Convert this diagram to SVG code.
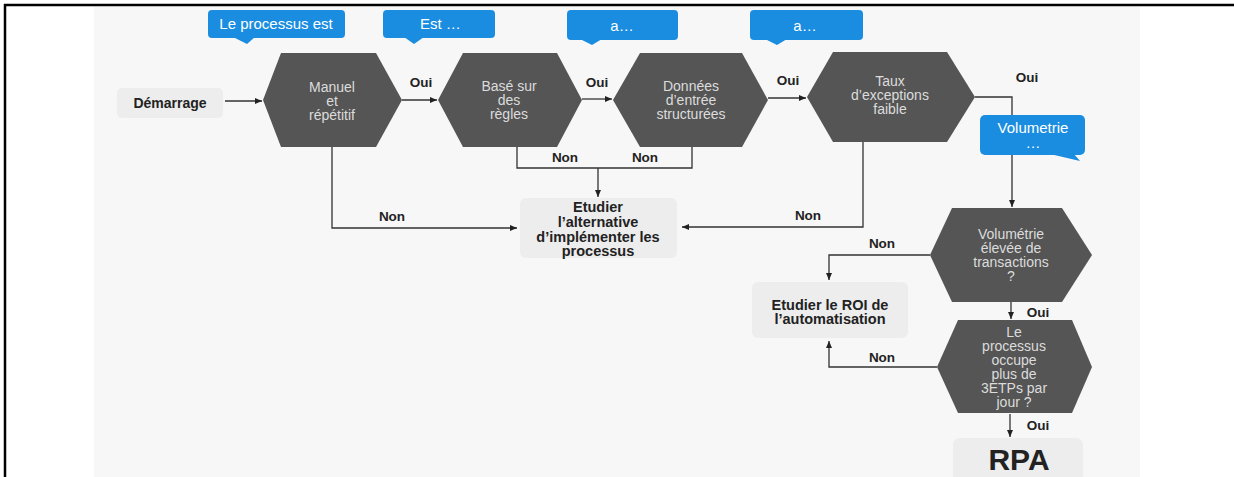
<svg xmlns="http://www.w3.org/2000/svg" width="1234" height="477" viewBox="0 0 1234 477">
<style>
.hex{fill:#555555}
.ht{font-family:"Liberation Sans",Arial,sans-serif;font-size:14px;fill:#dcdcdc;text-anchor:middle}
.box{fill:#ededed}
.bt{font-family:"Liberation Sans",Arial,sans-serif;font-size:14.5px;font-weight:bold;fill:#222;text-anchor:middle}
.lbl{font-family:"Liberation Sans",Arial,sans-serif;font-size:13.5px;font-weight:bold;fill:#222;text-anchor:middle}
.co{fill:#1a8de0}
.ct{font-family:"Liberation Sans",Arial,sans-serif;font-size:15px;fill:#ffffff;text-anchor:middle}
.ln{fill:none;stroke:#333;stroke-width:1.3}
</style>
<defs>
<marker id="ah" markerWidth="8" markerHeight="8" refX="7" refY="4" orient="auto" markerUnits="userSpaceOnUse">
<path d="M0,1 L7,4 L0,7 Z" fill="#222"/>
</marker>
</defs>
<rect x="0" y="0" width="1234" height="477" fill="#ffffff"/>
<rect x="94" y="7" width="1046" height="470" fill="#f7f7f7"/>
<line x1="4" y1="5" x2="1234" y2="5" stroke="#000" stroke-width="2.5"/>
<line x1="5" y1="4" x2="5" y2="477" stroke="#000" stroke-width="2.5"/>

<g id="connectors">
<path class="ln" d="M225,101 H262" marker-end="url(#ah)"/>
<path class="ln" d="M402,100 H437" marker-end="url(#ah)"/>
<path class="ln" d="M582,99 H612" marker-end="url(#ah)"/>
<path class="ln" d="M768,98 H806" marker-end="url(#ah)"/>
<path class="ln" d="M975,97 H1012 V207" marker-end="url(#ah)"/>
<path class="ln" d="M332,147 V228 H517" marker-end="url(#ah)"/>
<path class="ln" d="M517,147 V168 H692 V147"/>
<path class="ln" d="M598,168 V197" marker-end="url(#ah)"/>
<path class="ln" d="M863,142 V227 H682" marker-end="url(#ah)"/>
<path class="ln" d="M930,255 H829 V280" marker-end="url(#ah)"/>
<path class="ln" d="M1011,302 V319" marker-end="url(#ah)"/>
<path class="ln" d="M937,367 H829 V341" marker-end="url(#ah)"/>
<path class="ln" d="M1010,414 V437" marker-end="url(#ah)"/>
<text class="lbl" x="421" y="87">Oui</text>
<text class="lbl" x="597" y="87">Oui</text>
<text class="lbl" x="788" y="85">Oui</text>
<text class="lbl" x="1027" y="82">Oui</text>
<text class="lbl" x="1038" y="317">Oui</text>
<text class="lbl" x="1038" y="430">Oui</text>
<text class="lbl" x="392" y="221">Non</text>
<text class="lbl" x="565" y="162">Non</text>
<text class="lbl" x="645" y="162">Non</text>
<text class="lbl" x="808" y="220">Non</text>
<text class="lbl" x="882" y="248">Non</text>
<text class="lbl" x="882" y="362">Non</text>
</g>

<g id="callout1">
<rect class="co" x="208" y="10" width="137" height="28" rx="4"/>
<path class="co" d="M233,37 L255,37 L247,44 Z"/>
<text class="ct" x="276" y="29">Le processus est</text>
</g>
<g id="callout2">
<rect class="co" x="383" y="10" width="112" height="28" rx="4"/>
<path class="co" d="M404,37 L424,37 L414,44 Z"/>
<text class="ct" x="420" y="29" style="text-anchor:start">Est …</text>
</g>
<g id="callout3">
<rect class="co" x="567" y="10" width="111" height="30" rx="4"/>
<path class="co" d="M580,39 L602,39 L592,45 Z"/>
<text class="ct" x="622" y="31">a…</text>
</g>
<g id="callout4">
<rect class="co" x="750" y="10" width="113" height="30" rx="4"/>
<path class="co" d="M765,39 L787,39 L777,45 Z"/>
<text class="ct" x="805" y="31">a…</text>
</g>
<g id="callout5">
<rect class="co" x="980" y="115" width="105" height="40" rx="5"/>
<path class="co" d="M1050,154 L1074,154 L1080,161 Z"/>
<text class="ct" x="1033" y="133">Volumetrie</text>
<text class="ct" x="1033" y="148">…</text>
</g>

<g id="start">
<rect class="box" x="117" y="88" width="106" height="30" rx="5"/>
<text class="bt" x="170" y="108" style="font-size:14px">Démarrage</text>
</g>

<g id="hex1">
<polygon class="hex" points="263,100 281,53 376,53 402,100 376,147 281,147"/>
<text class="ht" x="332" y="92">Manuel</text>
<text class="ht" x="332" y="106">et</text>
<text class="ht" x="332" y="120">répétitif</text>
</g>
<g id="hex2">
<polygon class="hex" points="438,100 463,53 557,53 582,100 557,147 463,147"/>
<text class="ht" x="509" y="91">Basé sur</text>
<text class="ht" x="509" y="105">des</text>
<text class="ht" x="509" y="119">règles</text>
</g>
<g id="hex3">
<polygon class="hex" points="613,100 640,53 742,53 768,100 742,147 640,147"/>
<text class="ht" x="691" y="91">Données</text>
<text class="ht" x="691" y="105">d’entrée</text>
<text class="ht" x="691" y="119">structurées</text>
</g>
<g id="hex4">
<polygon class="hex" points="807,97 833,52 947,52 975,97 947,142 833,142"/>
<text class="ht" x="890" y="86">Taux</text>
<text class="ht" x="890" y="100">d’exceptions</text>
<text class="ht" x="890" y="114">faible</text>
</g>
<g id="hex5">
<polygon class="hex" points="930,255 952,208 1062,208 1092,255 1062,302 952,302"/>
<text class="ht" x="1011" y="239">Volumétrie</text>
<text class="ht" x="1011" y="253">élevée de</text>
<text class="ht" x="1011" y="267">transactions</text>
<text class="ht" x="1011" y="281">?</text>
</g>
<g id="hex6">
<polygon class="hex" points="937,367 958,320 1072,320 1092,367 1072,413 958,413"/>
<text class="ht" x="1014" y="337">Le</text>
<text class="ht" x="1014" y="351">processus</text>
<text class="ht" x="1014" y="365">occupe</text>
<text class="ht" x="1014" y="379">plus de</text>
<text class="ht" x="1014" y="393">3ETPs par</text>
<text class="ht" x="1014" y="407">jour ?</text>
</g>

<g id="alternative">
<rect class="box" x="520" y="198" width="157" height="60" rx="6"/>
<text class="bt" x="598" y="212">Etudier</text>
<text class="bt" x="598" y="227">l’alternative</text>
<text class="bt" x="598" y="242">d’implémenter les</text>
<text class="bt" x="598" y="256">processus</text>
</g>
<g id="roi">
<rect class="box" x="752" y="282" width="156" height="56" rx="6"/>
<text class="bt" x="830" y="310">Etudier le ROI de</text>
<text class="bt" x="830" y="324">l’automatisation</text>
</g>
<g id="rpa">
<rect class="box" x="953" y="438" width="130" height="45" rx="7"/>
<text class="bt" x="1019" y="470" style="font-size:30px">RPA</text>
</g>
</svg>
